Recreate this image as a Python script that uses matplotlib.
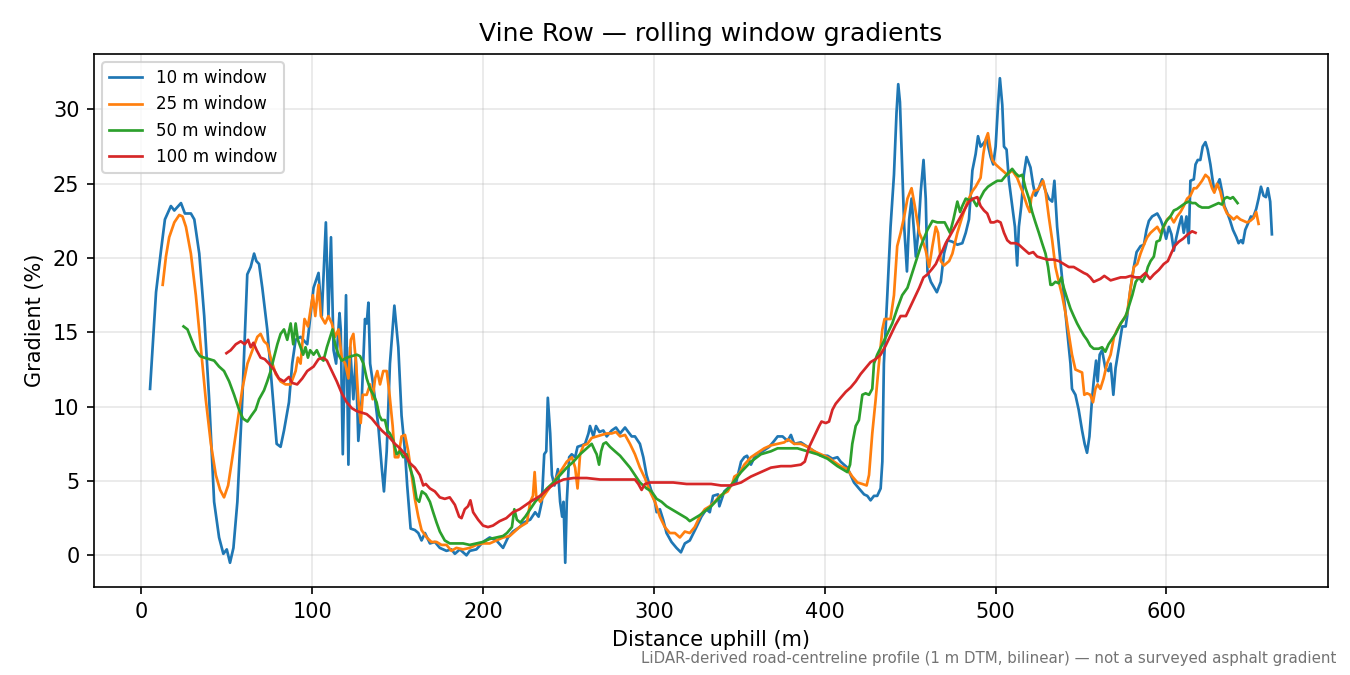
import matplotlib
matplotlib.use("Agg")
import matplotlib.pyplot as plt

# 10 m window
x10 = [5.1, 8.6, 11.5, 13.8, 17.3, 19.3, 23.2, 25.5, 29.0, 31.0, 33.9, 36.8, 39.7, 42.6, 45.5, 48.0,
       50.0, 51.9, 53.9, 56.2, 59.1, 62.0, 64.0, 66.0, 67.3, 68.9, 70.8, 73.7, 76.7, 79.2, 81.5, 83.5,
       86.4, 88.3, 90.3, 93.2, 97.1, 100.8, 103.7, 105.6, 108.0, 109.5, 111.0, 112.5, 114.0, 116.0,
       116.7, 117.9, 119.8, 121.2, 122.2, 124.1, 125.5, 127.0, 129.0, 130.9, 131.9, 132.9, 133.9,
       135.4, 136.8, 138.7, 140.7, 142.0, 143.6, 145.5, 148.1, 150.4, 152.3, 154.3, 155.6, 157.6,
       160.1, 162.1, 164.0, 166.0, 168.9, 171.8, 174.7, 178.6, 181.5, 183.5, 186.4, 190.3, 192.2,
       196.1, 200.0, 203.9, 207.8, 211.7, 214.6, 217.5, 221.4, 223.7, 227.6, 230.5, 232.5, 234.4,
       235.8, 237.0, 237.9, 239.3, 240.3, 241.8, 243.8, 245.1, 246.3, 247.1, 248.1, 249.0, 250.4,
       251.9, 253.9, 255.3, 257.8, 259.7, 261.7, 262.6, 264.6, 266.1, 268.1, 270.4, 272.4, 275.3,
       277.8, 280.2, 283.1, 285.0, 287.0, 288.9, 291.8, 293.8, 295.7, 298.6, 300.6, 301.6, 303.5,
       305.4, 307.4, 310.3, 313.2, 315.8, 318.1, 321.0, 324.9, 327.8, 330.7, 332.7, 334.6, 337.5,
       338.3, 341.2, 345.1, 348.1, 351.0, 352.9, 354.5, 356.8, 359.7, 363.6, 367.5, 370.4, 372.4,
       375.3, 378.2, 380.2, 382.1, 386.0, 389.9, 393.8, 397.7, 401.6, 404.5, 407.4, 409.3, 413.2,
       417.1, 420.0, 423.0, 424.9, 426.8, 428.8, 430.7, 432.7, 433.7, 434.6, 436.6, 438.5, 440.5,
       442.0, 443.0, 444.0, 446.5, 448.1, 449.4, 450.8, 452.3, 453.3, 454.7, 456.2, 457.8, 459.1,
       460.1, 462.1, 465.6, 467.9, 469.8, 471.8, 474.7, 477.6, 480.5, 482.5, 484.4, 486.4, 488.3,
       489.7, 491.2, 492.8, 494.7, 496.1, 497.1, 498.6, 500.0, 501.4, 502.5, 503.9, 504.9, 506.4,
       507.8, 509.7, 511.3, 512.6, 513.6, 515.0, 516.5, 518.1, 520.4, 522.0, 523.3, 525.3, 527.2,
       529.2, 531.1, 533.1, 534.4, 536.0, 537.9, 539.9, 541.8, 543.8, 544.7, 546.7, 548.6, 550.6,
       552.1, 553.5, 554.9, 556.4, 557.4, 558.8, 559.7, 560.9, 562.3, 564.2, 566.1, 567.3, 568.9,
       570.2, 572.2, 574.1, 576.1, 577.0, 579.0, 580.9, 582.5, 584.8, 586.8, 588.3, 589.7, 591.6,
       594.6, 596.5, 598.4, 599.8, 601.4, 602.9, 604.3, 605.8, 607.2, 608.8, 610.1, 611.7, 613.0,
       614.0, 616.0, 617.0, 618.3, 619.8, 621.2, 622.8, 624.1, 625.7, 626.8, 628.0, 629.6, 631.1,
       632.5, 633.9, 635.4, 637.0, 638.9, 640.9, 642.2, 643.6, 644.7, 646.1, 648.0, 649.4, 650.6,
       652.5, 653.9, 655.3, 656.8, 658.2, 659.3, 660.7, 661.7]
g10 = [11.2, 17.7, 20.5, 22.6, 23.5, 23.2, 23.7, 23.0, 23.0, 22.6, 20.3, 16.1, 10.5, 3.6, 1.2, 0.1,
       0.4, -0.5, 0.5, 3.6, 10.5, 18.9, 19.4, 20.3, 19.8, 19.6, 18.0, 15.2, 11.0, 7.5, 7.3, 8.4,
       10.3, 12.9, 14.5, 14.7, 14.2, 18.0, 19.0, 16.1, 22.4, 16.1, 21.4, 13.8, 12.9, 16.3,
       15.2, 6.8, 17.5, 6.1, 14.0, 10.5, 13.3, 7.7, 10.5, 15.9, 15.6, 17.0, 12.9,
       11.7, 10.5, 8.7, 5.9, 4.3, 7.0, 12.9, 16.8, 14.0, 9.4, 7.0, 4.7, 1.8,
       1.7, 1.5, 1.0, 1.5, 0.8, 0.9, 0.5, 0.3, 0.4, 0.1, 0.4, 0.0, 0.3,
       0.4, 0.9, 1.2, 1.0, 0.5, 1.2, 1.6, 1.9, 2.2, 2.4, 2.9, 2.6, 3.6,
       6.8, 7.0, 10.6, 8.2, 5.4, 4.7, 5.8, 3.6, 2.6, 3.6, -0.5, 3.6, 6.6,
       6.8, 6.6, 7.3, 7.4, 7.5, 8.2, 8.7, 8.0, 8.7, 8.3, 8.4, 8.0, 8.4,
       8.6, 8.2, 8.6, 8.3, 8.0, 8.0, 7.5, 6.6, 5.4, 4.3, 3.6, 2.9, 3.1,
       2.4, 1.5, 0.9, 0.5, 0.2, 0.8, 1.0, 1.9, 2.6, 3.1, 2.9, 4.0, 4.1,
       3.3, 4.3, 4.7, 4.9, 6.3, 6.6, 6.7, 6.1, 6.8, 7.0, 7.3, 7.7, 8.0,
       8.0, 7.7, 8.1, 7.5, 7.6, 7.3, 7.0, 6.7, 6.7, 6.5, 6.6, 6.3, 5.9,
       4.9, 4.5, 4.1, 4.0, 3.7, 4.0, 4.0, 4.5, 6.3, 12.9, 17.5, 22.1, 25.6,
       29.8, 31.7, 30.5, 22.1, 19.1, 22.6, 24.0, 21.7, 20.1, 21.7, 24.5, 26.6, 24.0,
       19.1, 18.4, 17.7, 18.4, 20.3, 21.2, 21.1, 20.9, 21.0, 21.7, 22.6, 25.9, 27.0,
       28.2, 27.5, 27.7, 28.0, 27.3, 26.8, 26.3, 27.5, 30.3, 32.1, 30.3, 27.5, 27.3,
       25.2, 23.5, 22.1, 19.5, 22.1, 23.5, 25.6, 26.8, 26.1, 24.9, 24.2, 24.7, 25.3,
       24.5, 24.0, 23.8, 25.2, 22.1, 19.8, 17.5, 15.2, 12.9, 11.2, 10.8, 9.8, 8.4,
       7.5, 6.9, 8.0, 10.5, 11.7, 13.1, 11.7, 13.5, 13.8, 12.6, 12.4, 12.9, 10.8,
       12.6, 14.0, 15.4, 15.4, 16.1, 18.0, 19.4, 20.4, 20.8, 20.9, 21.9, 22.5, 22.8,
       23.0, 22.6, 22.0, 21.3, 22.1, 21.6, 20.5, 21.4, 22.1, 22.8, 21.7, 22.8, 21.0,
       25.2, 25.3, 26.3, 26.6, 26.6, 27.5, 27.8, 27.3, 26.3, 25.4, 24.5, 24.9, 25.3,
       24.5, 23.5, 23.1, 22.6, 21.9, 21.4, 21.0, 21.2, 21.0, 21.9, 22.4, 22.8, 22.7,
       23.3, 24.0, 24.8, 24.2, 24.1, 24.7, 23.8, 21.6]

# 25 m window
x25 = [12.5, 14.4, 16.3, 19.3, 22.2, 24.1, 26.1, 29.0, 31.9, 34.8, 37.7, 40.7, 43.6, 46.1, 48.4,
       50.8, 53.3, 56.2, 59.1, 62.1, 65.0, 67.9, 69.8, 71.8, 73.7, 75.7, 78.6, 81.5, 84.4, 87.4,
       90.3, 91.6, 93.2, 95.5, 97.5, 100.4, 101.8, 103.7, 105.1, 107.6, 109.5, 111.5, 113.4, 115.4,
       117.3, 119.3, 121.2, 122.6, 124.1, 125.7, 127.0, 128.4, 129.6, 131.9, 133.9, 135.4, 136.8,
       138.1, 139.7, 141.6, 143.6, 145.1, 147.1, 148.4, 150.4, 152.3, 154.3, 156.2, 158.2, 160.1,
       162.1, 164.0, 167.0, 169.8, 172.8, 175.7, 178.6, 181.5, 184.4, 188.3, 192.2, 196.1, 200.0,
       203.9, 207.8, 211.7, 215.6, 221.4, 225.7, 227.6, 229.2, 230.2, 231.1, 233.5, 237.4, 241.2,
       245.1, 249.0, 252.0, 253.9, 255.3, 256.8, 258.8, 261.1, 263.6, 266.5, 269.5, 272.4, 275.3,
       277.8, 280.2, 283.1, 286.0, 288.9, 291.8, 294.7, 297.7, 300.6, 303.5, 306.4, 309.3, 312.3,
       315.2, 318.1, 321.0, 323.9, 326.8, 329.8, 332.7, 335.6, 338.5, 343.2, 346.1, 347.1, 350.0,
       352.9, 356.8, 360.7, 364.6, 368.5, 372.4, 376.3, 378.6, 382.1, 386.0, 389.9, 393.8, 397.7,
       401.6, 405.4, 409.3, 413.2, 416.1, 419.1, 422.0, 424.5, 425.9, 427.8, 429.8, 431.7, 433.7,
       435.0, 436.6, 438.5, 440.5, 442.4, 444.4, 446.5, 448.4, 450.8, 452.7, 455.3, 457.2, 459.1,
       461.1, 463.0, 465.0, 466.3, 467.9, 469.8, 472.8, 474.7, 477.6, 480.5, 483.5, 486.4, 488.3,
       491.2, 492.8, 494.2, 495.5, 496.7, 498.1, 500.0, 501.9, 504.9, 506.8, 509.7, 512.6, 515.6,
       518.5, 520.0, 520.8, 522.4, 524.7, 526.3, 527.8, 529.2, 531.1, 533.1, 535.0, 537.0, 538.9,
       540.9, 542.8, 544.7, 546.7, 548.6, 550.6, 551.9, 553.5, 555.4, 557.0, 558.4, 559.7, 561.3,
       563.2, 565.2, 567.3, 569.3, 571.2, 573.2, 575.1, 577.0, 579.0, 580.9, 582.9, 584.8, 586.8,
       588.7, 590.7, 592.6, 594.6, 596.5, 598.4, 600.4, 602.3, 604.3, 606.2, 608.2, 610.1, 612.1,
       614.0, 616.0, 617.5, 618.9, 620.8, 622.8, 624.7, 626.7, 628.0, 629.6, 631.5, 633.5, 635.4,
       637.4, 639.3, 641.2, 643.2, 645.1, 647.1, 649.0, 651.0, 652.5, 653.9]
g25 = [18.2, 20.1, 21.4, 22.4, 22.9, 22.8, 22.1, 20.3, 17.5, 14.0, 10.5, 7.5, 5.4, 4.4, 3.9,
       4.7, 6.6, 8.9, 11.2, 12.9, 13.8, 14.7, 14.9, 14.4, 14.2, 13.3, 12.2, 11.7, 11.5, 11.5,
       12.4, 13.3, 12.9, 15.9, 15.4, 17.5, 16.1, 18.2, 16.1, 15.6, 16.1, 15.6, 14.7, 15.2,
       13.3, 12.9, 11.9, 14.5, 14.9, 12.9, 10.5, 8.9, 10.8, 10.8, 11.5, 10.5, 11.9,
       12.4, 11.5, 12.4, 12.4, 11.0, 8.7, 6.6, 6.6, 8.0, 8.1, 7.0, 5.4, 3.8,
       2.6, 1.7, 1.2, 0.9, 0.9, 0.7, 0.7, 0.3, 0.5, 0.4, 0.5, 0.7, 0.8,
       0.8, 1.0, 1.2, 1.3, 1.9, 2.2, 3.6, 4.0, 5.6, 4.0, 3.6, 4.3, 4.9,
       5.6, 6.3, 6.6, 5.9, 4.5, 6.8, 7.4, 7.5, 7.9, 8.0, 8.1, 8.2, 8.2,
       8.3, 8.0, 8.1, 7.5, 6.8, 5.9, 5.2, 4.3, 3.6, 2.6, 1.9, 1.5, 1.5,
       1.2, 1.6, 1.5, 1.9, 2.6, 3.1, 3.3, 3.6, 4.0, 4.3, 4.9, 5.3, 5.5,
       6.1, 6.6, 6.9, 7.2, 7.4, 7.5, 7.6, 7.8, 7.5, 7.5, 7.3, 7.0, 6.8,
       6.6, 6.3, 6.0, 5.8, 5.3, 4.9, 4.8, 4.7, 5.4, 8.2, 10.5, 12.9, 15.2,
       15.9, 15.9, 15.9, 17.5, 20.8, 21.7, 22.8, 24.0, 24.7, 23.5, 21.7, 21.2, 20.5,
       19.4, 20.8, 22.1, 21.7, 19.8, 19.5, 19.8, 20.3, 21.7, 22.8, 23.8, 24.5, 24.8,
       25.4, 27.0, 28.0, 28.4, 27.5, 26.6, 26.3, 26.1, 25.8, 25.6, 25.9, 25.4, 24.5,
       23.5, 23.1, 24.0, 24.5, 24.6, 24.9, 25.2, 24.5, 22.8, 21.2, 19.4, 18.4, 17.5,
       16.3, 14.9, 13.5, 12.5, 12.4, 12.3, 10.8, 10.9, 10.8, 10.3, 11.2, 11.5, 11.2,
       11.9, 12.9, 13.5, 14.7, 15.2, 15.6, 15.9, 16.3, 18.0, 19.4, 19.6, 20.3, 20.9,
       21.4, 21.7, 21.9, 22.1, 21.7, 22.1, 22.6, 22.8, 22.4, 22.8, 23.1, 23.5, 24.0,
       24.2, 24.7, 24.7, 24.9, 25.2, 25.6, 25.4, 24.7, 24.4, 25.0, 24.5, 23.5, 23.0,
       22.8, 22.6, 22.8, 22.6, 22.5, 22.4, 22.5, 22.7, 23.1, 22.3]

# 50 m window
x50 = [24.7, 27.0, 29.4, 31.9, 34.4, 36.8, 39.7, 42.6, 45.5, 48.4, 51.4, 54.3, 57.2, 59.5, 62.1,
       64.4, 66.9, 68.9, 71.8, 73.7, 75.7, 77.6, 79.6, 81.5, 83.5, 85.4, 87.4, 88.9, 90.3, 91.6,
       93.2, 94.7, 96.1, 97.5, 98.8, 100.8, 102.7, 104.7, 106.6, 108.6, 110.5, 111.9, 113.4, 115.4,
       117.3, 120.2, 123.2, 126.1, 128.0, 130.0, 131.9, 133.9, 135.8, 137.7, 139.3, 140.7, 142.6,
       144.0, 145.5, 147.5, 149.4, 151.4, 153.3, 155.3, 157.2, 159.1, 161.1, 162.6, 164.2, 166.5,
       168.9, 170.8, 172.8, 174.7, 177.6, 180.5, 184.4, 188.3, 192.2, 196.1, 200.0, 203.9, 207.8,
       211.7, 214.0, 216.9, 218.3, 219.8, 221.8, 224.7, 227.6, 230.5, 233.5, 237.4, 241.2, 245.1,
       249.0, 252.9, 256.8, 260.7, 263.6, 265.6, 266.5, 267.9, 269.1, 270.4, 272.0, 274.3, 277.2,
       280.2, 283.1, 286.0, 288.9, 291.8, 293.8, 295.7, 298.6, 301.6, 304.5, 307.4, 310.3, 313.2,
       316.1, 319.1, 321.0, 323.9, 326.8, 333.5, 339.3, 345.1, 351.0, 356.8, 362.6, 368.5, 372.4,
       378.2, 384.0, 389.9, 395.7, 401.6, 407.4, 413.2, 414.8, 416.1, 418.1, 420.0, 422.0, 423.9,
       425.9, 427.8, 428.8, 430.7, 433.7, 436.6, 439.5, 442.4, 445.3, 448.4, 452.3, 456.2, 460.1,
       463.0, 465.9, 467.9, 470.2, 473.3, 475.3, 477.6, 479.2, 480.5, 482.5, 484.4, 486.4, 488.9,
       490.9, 493.2, 495.5, 498.1, 501.0, 503.5, 504.9, 507.2, 509.7, 511.7, 513.6, 515.6, 517.5,
       519.5, 521.4, 523.3, 525.3, 527.2, 529.2, 530.7, 532.1, 533.1, 535.0, 537.0, 538.5, 539.9,
       541.8, 543.8, 545.7, 547.7, 549.6, 551.6, 553.5, 555.4, 557.4, 560.3, 562.3, 564.2, 566.1,
       570.2, 573.2, 576.1, 578.1, 580.0, 582.0, 583.9, 585.8, 587.7, 589.1, 590.7, 592.6, 594.2,
       596.1, 598.1, 600.0, 602.3, 604.3, 606.2, 608.6, 611.1, 613.0, 615.0, 616.9, 618.9, 620.8,
       622.8, 624.7, 626.7, 628.6, 630.5, 632.5, 633.9, 635.4, 637.4, 638.9, 640.3, 641.6]
g50 = [15.4, 15.2, 14.5, 13.8, 13.4, 13.3, 13.2, 13.1, 12.7, 12.4, 11.7, 10.8, 9.8, 9.2, 9.0,
       9.4, 9.8, 10.5, 11.1, 11.7, 12.4, 13.3, 14.2, 14.9, 15.2, 14.5, 15.6, 14.2, 15.6, 14.5,
       14.0, 13.5, 14.0, 13.3, 13.8, 13.5, 13.8, 13.3, 13.1, 14.0, 14.7, 15.2, 14.2, 13.5,
       13.1, 13.3, 13.4, 13.5, 13.4, 12.9, 11.9, 11.2, 10.8, 10.3, 9.4, 9.1, 9.1,
       8.4, 8.2, 7.7, 6.8, 7.0, 6.6, 6.8, 5.9, 5.2, 3.8, 3.6, 4.3, 4.1,
       3.6, 2.9, 2.2, 1.6, 1.0, 0.8, 0.8, 0.8, 0.7, 0.8, 0.9, 1.1, 1.2,
       1.3, 1.5, 1.9, 3.1, 2.4, 2.2, 2.6, 3.1, 3.6, 4.0, 4.5, 4.9, 5.4,
       5.9, 6.3, 6.8, 7.2, 7.5, 7.0, 6.8, 6.1, 7.0, 7.5, 7.6, 7.3, 7.0,
       6.7, 6.3, 5.9, 5.4, 4.9, 4.7, 4.5, 4.3, 3.8, 3.6, 3.3, 3.1, 2.9,
       2.7, 2.5, 2.3, 2.5, 2.7, 3.3, 4.0, 4.7, 5.6, 6.3, 6.8, 7.0, 7.2,
       7.2, 7.2, 7.0, 6.8, 6.5, 6.0, 5.6, 6.1, 7.5, 8.7, 9.1, 10.8, 10.9,
       10.8, 11.2, 12.9, 13.5, 14.2, 14.9, 15.6, 16.6, 17.5, 18.0, 19.4, 20.8, 21.9,
       22.5, 22.4, 22.4, 22.4, 21.7, 22.6, 23.8, 23.1, 23.5, 24.0, 23.9, 24.0, 23.5,
       24.0, 24.5, 24.8, 25.0, 25.2, 25.2, 25.4, 25.7, 26.0, 25.7, 25.5, 25.6, 24.7,
       24.0, 23.1, 22.4, 21.7, 21.0, 20.3, 19.4, 18.2, 18.2, 18.4, 18.3, 18.7, 18.0,
       17.3, 16.6, 16.1, 15.6, 15.2, 14.8, 14.5, 14.1, 13.9, 13.9, 14.0, 13.7, 14.2,
       14.9, 15.6, 16.1, 16.8, 17.5, 18.4, 18.7, 18.4, 18.8, 19.4, 19.8, 20.1, 21.1,
       21.2, 22.1, 22.5, 22.8, 23.2, 23.3, 23.5, 23.7, 23.8, 23.7, 23.7, 23.5, 23.4,
       23.4, 23.4, 23.5, 23.6, 23.7, 23.6, 24.0, 24.1, 24.0, 24.1, 23.9, 23.7]

# 100 m window
x100 = [49.8, 52.3, 55.3, 58.2, 60.5, 62.5, 64.0, 65.6, 67.5, 69.8, 72.2, 74.7, 77.6, 80.5, 83.5,
        86.4, 88.3, 91.2, 94.2, 97.1, 100.8, 103.7, 106.6, 108.6, 111.5, 114.4, 117.3, 120.2, 123.2,
        126.1, 129.0, 131.9, 134.9, 137.7, 140.7, 142.6, 145.5, 148.4, 151.4, 154.3, 157.2, 160.1,
        163.0, 165.0, 166.5, 168.9, 171.8, 174.7, 177.6, 180.5, 183.5, 186.0, 187.4, 189.3, 191.2,
        192.6, 194.2, 197.1, 200.0, 202.9, 205.8, 209.7, 213.6, 217.5, 221.4, 227.6, 233.5, 239.3,
        243.2, 247.1, 252.9, 260.7, 268.5, 276.3, 284.0, 288.9, 290.9, 292.8, 294.7, 297.7, 303.5,
        311.3, 319.1, 326.8, 333.5, 339.3, 345.1, 351.0, 356.8, 362.6, 368.5, 374.3, 380.2, 386.0,
        388.3, 390.9, 393.8, 396.7, 398.1, 400.6, 402.5, 404.5, 406.4, 409.3, 412.3, 415.2, 418.1,
        421.0, 423.9, 426.8, 429.8, 432.7, 435.6, 438.5, 441.4, 444.4, 447.5, 450.4, 453.3, 455.3,
        457.8, 460.1, 463.0, 465.0, 466.9, 468.9, 470.8, 472.8, 475.7, 478.6, 481.5, 484.4, 487.0,
        489.3, 491.2, 493.2, 495.1, 497.1, 499.0, 501.0, 502.9, 504.9, 506.8, 508.8, 511.7, 513.6,
        516.5, 519.5, 522.0, 524.3, 527.2, 530.2, 534.0, 537.0, 539.9, 542.8, 545.7, 548.6, 551.6,
        553.5, 555.4, 557.4, 559.3, 561.3, 563.6, 567.3, 570.2, 573.2, 576.1, 579.0, 581.9, 584.8,
        587.7, 590.3, 592.6, 595.5, 598.4, 600.8, 602.7, 604.7, 607.2, 609.7, 612.5, 615.0, 617.0]
g100 = [13.6, 13.8, 14.2, 14.4, 14.2, 14.5, 14.0, 14.3, 13.8, 13.3, 13.2, 12.9, 12.5, 11.9, 11.7,
        12.0, 11.6, 11.5, 11.9, 12.4, 12.7, 13.2, 13.3, 13.1, 12.4, 11.7, 10.9, 10.3, 9.9,
        9.7, 9.6, 9.5, 9.2, 8.8, 8.4, 8.2, 7.9, 7.5, 7.2, 6.8, 6.2, 5.9,
        5.4, 4.7, 4.8, 4.5, 4.3, 3.9, 3.8, 3.9, 3.4, 2.6, 2.5, 3.1, 3.3,
        3.7, 2.9, 2.4, 2.0, 1.9, 2.0, 2.3, 2.5, 2.9, 3.1, 3.6, 4.0, 4.6,
        4.9, 5.1, 5.2, 5.2, 5.1, 5.1, 5.1, 5.1, 4.8, 4.4, 4.8, 4.9, 4.9,
        4.9, 4.8, 4.8, 4.8, 4.7, 4.7, 4.9, 5.3, 5.6, 5.9, 6.0, 6.0, 6.1,
        6.3, 7.3, 8.0, 8.7, 9.0, 8.9, 9.0, 9.8, 10.2, 10.6, 11.0, 11.3, 11.7,
        12.2, 12.6, 13.0, 13.2, 13.5, 14.1, 14.8, 15.5, 16.1, 16.1, 16.8, 17.5, 18.0,
        18.7, 18.9, 19.3, 19.6, 20.1, 20.5, 21.0, 21.4, 22.0, 22.6, 23.2, 23.8, 24.0,
        24.1, 23.5, 23.2, 23.0, 22.4, 22.4, 22.5, 22.4, 21.7, 21.2, 21.0, 21.0, 20.9,
        20.6, 20.3, 20.4, 20.1, 20.0, 19.9, 19.9, 19.8, 19.6, 19.4, 19.4, 19.2, 19.0,
        18.9, 18.7, 18.4, 18.5, 18.6, 18.8, 18.5, 18.6, 18.7, 18.7, 18.8, 18.7, 18.7,
        19.0, 18.6, 18.9, 19.2, 19.6, 19.8, 20.3, 20.8, 21.1, 21.3, 21.6, 21.8, 21.7]

series = [
    (x10, g10, "10 m window"),
    (x25, g25, "25 m window"),
    (x50, g50, "50 m window"),
    (x100, g100, "100 m window"),
]

fig, ax = plt.subplots(figsize=(9, 4.5), dpi=150)
fig.subplots_adjust(left=0.0696, right=0.9837, bottom=0.1304, top=0.92)

for xs, ys, label in series:
    ax.plot(xs, ys, linewidth=1.3, label=label)

ax.set_title("Vine Row — rolling window gradients", fontsize=12)
ax.set_xlabel("Distance uphill (m)")
ax.set_ylabel("Gradient (%)")
ax.grid(True, alpha=0.3)
ax.legend(loc="upper left", fontsize=8)

fig.text(0.99, 0.013, "LiDAR-derived road-centreline profile (1 m DTM, bilinear) — not a surveyed asphalt gradient",
         ha="right", va="bottom", fontsize=7.2, color="0.45")

fig.savefig("out.png", dpi=150)
